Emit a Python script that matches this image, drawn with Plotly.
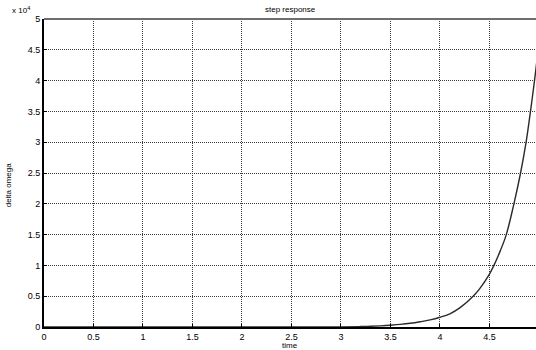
import plotly.graph_objects as go

# Step response samples: time (s) and delta omega
time = [0.0, 1.0, 2.0, 3.0, 3.2, 3.3, 3.4, 3.5, 3.6, 3.7, 3.8, 3.9, 4.0, 4.1, 4.2, 4.335,
        4.4, 4.5, 4.545, 4.61, 4.67, 4.747, 4.814, 4.87, 4.914, 4.955, 5.0]
delta_omega = [0, 0, 0, 25, 70, 120, 190, 290, 420, 600, 850, 1150, 1580, 2150, 3100, 5000,
               6200, 8600, 10000, 12400, 15000, 20000, 25000, 30000, 35000, 40000, 46000]

x_ticks = [0, 0.5, 1, 1.5, 2, 2.5, 3, 3.5, 4, 4.5, 5]
x_tick_text = ["0", "0.5", "1", "1.5", "2", "2.5", "3", "3.5", "4", "4.5", "5"]
y_ticks = [0, 5000, 10000, 15000, 20000, 25000, 30000, 35000, 40000, 45000, 50000]
y_tick_text = ["0", "0.5", "1", "1.5", "2", "2.5", "3", "3.5", "4", "4.5", "5"]

FONT = "Liberation Sans, Arial, sans-serif"

fig = go.Figure()
fig.add_trace(go.Scatter(
    x=time, y=delta_omega, mode="lines",
    line=dict(color="#2a2a2a", width=1.4, shape="spline", smoothing=1.0),
    showlegend=False, hoverinfo="skip",
))

axis_common = dict(
    showgrid=True, gridcolor="#3a3a3a", gridwidth=1, griddash="1px,1px",
    showline=True, linecolor="#000000", linewidth=2,
    ticks="inside", ticklen=3, tickcolor="#000000", tickwidth=1,
    zeroline=False,
    tickfont=dict(family=FONT, size=9, color="#000000"),
)

fig.update_layout(
    width=536, height=350,
    margin=dict(l=44, r=0, t=19, b=23),
    paper_bgcolor="white", plot_bgcolor="white",
    # the time axis runs on past the right edge of the page, so the view stops just short of 5
    xaxis=dict(range=[0, 4.97], tickvals=x_ticks, ticktext=x_tick_text, **axis_common),
    yaxis=dict(range=[0, 50000], tickvals=y_ticks, ticktext=y_tick_text, **axis_common),
    shapes=[dict(type="line", xref="paper", yref="paper", x0=0, x1=1, y0=1, y1=1,
                 line=dict(color="#6e6e6e", width=2))],
    annotations=[
        dict(text="step response", xref="paper", yref="paper", x=0.5, y=1, yshift=3,
             xanchor="center", yanchor="bottom", showarrow=False,
             font=dict(family=FONT, size=8, color="#000000")),
        dict(text="time", xref="paper", yref="paper", x=0.5, y=0, yshift=-12,
             xanchor="center", yanchor="top", showarrow=False,
             font=dict(family=FONT, size=8, color="#000000")),
        dict(text="delta omega", xref="paper", yref="paper", x=0, xshift=-36, y=0.46,
             xanchor="center", yanchor="middle", textangle=-90, showarrow=False,
             font=dict(family=FONT, size=8, color="#000000")),
        dict(text="x 10<sup>4</sup>", xref="paper", yref="paper", x=0, xshift=-34, y=1, yshift=2,
             xanchor="left", yanchor="bottom", showarrow=False,
             font=dict(family=FONT, size=8, color="#000000")),
    ],
)

fig.write_html("out.html")
